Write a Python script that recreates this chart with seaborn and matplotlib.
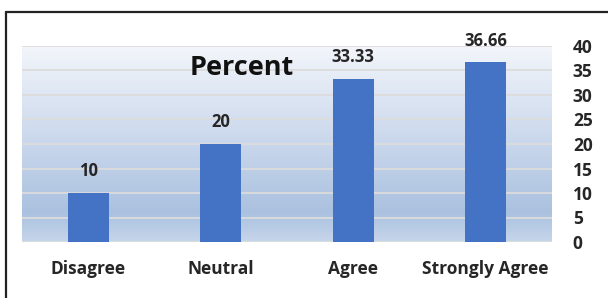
import numpy as np
import pandas as pd
import matplotlib
matplotlib.use("Agg")
import matplotlib.pyplot as plt
from matplotlib.colors import LinearSegmentedColormap
from matplotlib.lines import Line2D
import seaborn as sns

categories = ["Disagree", "Neutral", "Agree", "Strongly Agree"]
percent = [10, 20, 33.33, 36.66]
label_text = ["10", "20", "33.33", "36.66"]
y_ticks = [0, 5, 10, 15, 20, 25, 30, 35, 40]

sns.set_style("white")
plt.rcParams['font.family'] = ['Open Sans', 'DejaVu Sans']

df = pd.DataFrame({"cat": categories, "pct": percent})

fig = plt.figure(figsize=(6.08, 2.98), dpi=100)
ax = fig.add_axes([22/608, 56/298, 530/608, 196/298])

# gradient background (light at top, blue toward bottom)
cmap = LinearSegmentedColormap.from_list(
    "bg", [(0.0, "#f3f6fb"), (0.5, "#c9d7ec"), (0.85, "#aac1df"), (1.0, "#c6d5ea")])
grad = np.linspace(0, 1, 256).reshape(-1, 1)[::-1]
ax.imshow(grad, cmap=cmap, aspect="auto", extent=[0, 1, 1, 0],
          transform=ax.transAxes, zorder=0)

sns.barplot(data=df, x="cat", y="pct", color="#4472C4", saturation=1,
            width=0.31, ax=ax, zorder=3, linewidth=0, edgecolor="none")

ax.set_xlim(-0.5, 3.5)
ax.set_ylim(0, 40)
ax.set_yticks(y_ticks)
for t in y_ticks:
    ax.axhline(t, color="#dcdcdc", lw=1.3, zorder=1)

for s in ax.spines.values():
    s.set_visible(False)

ax.yaxis.tick_right()
ax.tick_params(axis="y", length=0, pad=15, labelsize=12.5)
ax.tick_params(axis="x", length=0, pad=13, labelsize=12.5)
for lab in ax.get_yticklabels() + ax.get_xticklabels():
    lab.set_fontweight("bold")
ax.set_xlabel("")
ax.set_ylabel("")

ax.bar_label(ax.containers[0], labels=label_text, padding=9,
             fontsize=12, fontweight="bold", clip_on=False)

ax.text(0.415, 0.89, "Percent", transform=ax.transAxes, ha="center",
        va="center", fontsize=19.5, fontweight="bold", color="#111111")

# outer frame (top and left edges)
fig.add_artist(Line2D([6/608, 1.0], [1 - 12/298, 1 - 12/298], color="#222222",
                      lw=1.6, transform=fig.transFigure))
fig.add_artist(Line2D([6/608, 6/608], [0.0, 1 - 12/298], color="#222222",
                      lw=1.6, transform=fig.transFigure))

fig.savefig("out.png", dpi=100, facecolor="white")
